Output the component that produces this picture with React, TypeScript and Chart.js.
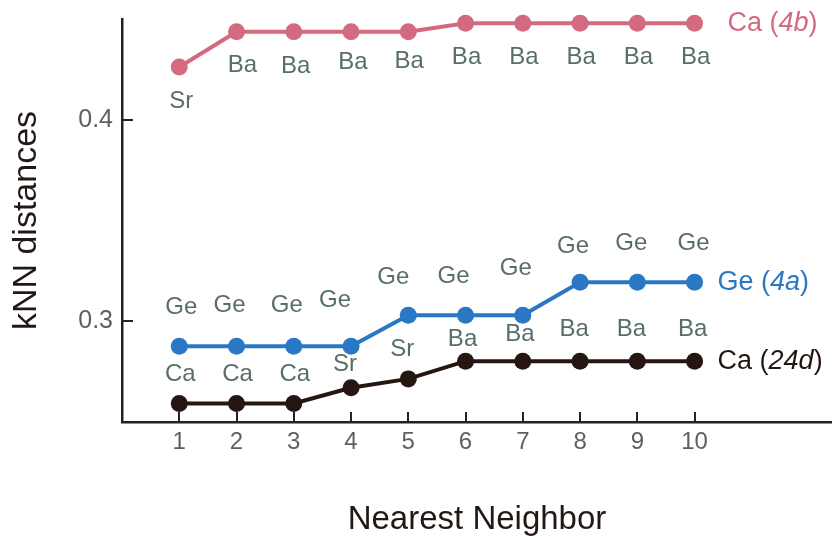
import React, { useEffect, useRef } from 'react';
import { Chart, registerables } from 'chart.js';

Chart.register(...registerables);

// Neighbor rank on the x axis and the ticks shown on each axis
const neighborRanks = [1, 2, 3, 4, 5, 6, 7, 8, 9, 10];
const xTickValues = [1, 2, 3, 4, 5, 6, 7, 8, 9, 10];
const yTickValues = [0.3, 0.4];

// kNN distances per site
const ca4bDistances = [0.4262, 0.4437, 0.4437, 0.4437, 0.4437, 0.4479, 0.4479, 0.4479, 0.4479, 0.4479];
const ge4aDistances = [0.2876, 0.2876, 0.2876, 0.2876, 0.303, 0.303, 0.303, 0.3193, 0.3193, 0.3193];
const ca24dDistances = [0.2592, 0.2592, 0.2592, 0.267, 0.2714, 0.2802, 0.2802, 0.2802, 0.2802, 0.2802];

// Species of each neighbor
const ca4bNeighbors = ['Sr', 'Ba', 'Ba', 'Ba', 'Ba', 'Ba', 'Ba', 'Ba', 'Ba', 'Ba'];
const ge4aNeighbors = ['Ge', 'Ge', 'Ge', 'Ge', 'Ge', 'Ge', 'Ge', 'Ge', 'Ge', 'Ge'];
const ca24dNeighbors = ['Ca', 'Ca', 'Ca', 'Sr', 'Sr', 'Ba', 'Ba', 'Ba', 'Ba', 'Ba'];

// Site names: element plus italic Wyckoff position
const siteNames = [
  { element: 'Ca', wyckoff: '4b' },
  { element: 'Ge', wyckoff: '4a' },
  { element: 'Ca', wyckoff: '24d' },
];

const PINK = '#d46a80';
const BLUE = '#2a78c3';
const DARK = '#261612';
const AXIS = '#2b201c';
const NOTE = '#586e69';
const FONT = '"Liberation Sans", Arial, sans-serif';

// Pixel nudges for the neighbor-species text around each point
const noteLayout = [
  { dx: [2, 6, 2, 2, 1, 1, 1, 1, 1, 1], dy: [34, 34, 35, 31, 30, 34, 34, 34, 34, 34] },
  { dx: [2, -7, -7, -16, -15, -12, -7, -7, -6, -1], dy: [-39, -41, -41, -46, -38, -39, -47, -36, -39, -39] },
  { dx: [1, 1, 1, -6, -6, -3, -3, -6, -6, -2], dy: [-29, -29, -29, -23, -30, -22, -27, -32, -32, -32] },
];
const nameOffsetX = [33, 23, 23];

const neighborNotes = [ca4bNeighbors, ge4aNeighbors, ca24dNeighbors];

const inwardTicks = {
  id: 'inwardTicks',
  beforeDatasetsDraw(chart: any) {
    const { ctx, chartArea, scales } = chart;
    ctx.save();
    ctx.strokeStyle = AXIS;
    ctx.lineWidth = 2;
    ctx.beginPath();
    xTickValues.forEach((v) => {
      const px = Math.round(scales.x.getPixelForValue(v));
      ctx.moveTo(px, chartArea.bottom);
      ctx.lineTo(px, chartArea.bottom - 10);
    });
    yTickValues.forEach((v) => {
      const py = Math.round(scales.y.getPixelForValue(v));
      ctx.moveTo(chartArea.left, py);
      ctx.lineTo(chartArea.left + 11, py);
    });
    ctx.stroke();
    ctx.restore();
  },
};

const pointNotes = {
  id: 'pointNotes',
  afterDatasetsDraw(chart: any) {
    const { ctx } = chart;
    ctx.save();
    chart.data.datasets.forEach((ds: any, i: number) => {
      const meta = chart.getDatasetMeta(i);
      const notes = neighborNotes[i];
      const lay = noteLayout[i];
      ctx.font = `24px ${FONT}`;
      ctx.fillStyle = NOTE;
      ctx.textAlign = 'center';
      ctx.textBaseline = 'middle';
      meta.data.forEach((pt: any, j: number) => {
        ctx.fillText(notes[j], pt.x + lay.dx[j], pt.y + lay.dy[j]);
      });
      // series name to the right of the last point
      const last = meta.data[meta.data.length - 1];
      const name = siteNames[i];
      let x = last.x + nameOffsetX[i];
      const y = last.y;
      ctx.fillStyle = ds.borderColor;
      ctx.textAlign = 'left';
      const regular = `27px ${FONT}`;
      const italic = `italic 27px ${FONT}`;
      const parts: [string, string][] = [
        [`${name.element} (`, regular],
        [name.wyckoff, italic],
        [')', regular],
      ];
      parts.forEach(([txt, f]) => {
        ctx.font = f;
        ctx.fillText(txt, x, y);
        x += ctx.measureText(txt).width;
      });
    });
    ctx.restore();
  },
};

function series(values: number[], color: string) {
  return {
    data: neighborRanks.map((r, k) => ({ x: r, y: values[k] })),
    borderColor: color,
    backgroundColor: color,
    pointBackgroundColor: color,
    pointBorderColor: color,
    borderWidth: 4,
    pointRadius: 8.5,
    pointBorderWidth: 0,
    tension: 0,
    clip: false as any,
  };
}

// drop the extra room Chart.js reserves for edge tick labels
function noEdgePadding(scale: any) {
  scale.paddingTop = 0;
  scale.paddingBottom = 0;
  scale.paddingLeft = 0;
  scale.paddingRight = 0;
}

export default function App() {
  const canvasRef = useRef<HTMLCanvasElement>(null);

  useEffect(() => {
    if (!canvasRef.current) return;
    const chart = new Chart(canvasRef.current, {
      type: 'line',
      data: {
        datasets: [
          series(ca4bDistances, PINK),
          series(ge4aDistances, BLUE),
          series(ca24dDistances, DARK),
        ],
      },
      options: {
        responsive: false,
        animation: false,
        devicePixelRatio: 1,
        layout: { autoPadding: false, padding: { top: 19, right: 0, bottom: 0, left: 0 } },
        plugins: {
          legend: { display: false },
          tooltip: { enabled: false },
        },
        scales: {
          x: {
            type: 'linear',
            min: 0,
            max: 12.4,
            afterBuildTicks: (scale: any) => {
              scale.ticks = xTickValues.map((v) => ({ value: v }));
            },
            afterFit: (scale: any) => {
              scale.height = 114;
              noEdgePadding(scale);
            },
            grid: { display: false, drawTicks: false },
            border: { display: true, color: AXIS, width: 2.5 },
            ticks: {
              color: '#5f5f5f',
              font: { family: FONT, size: 24 },
              padding: 6,
              maxRotation: 0,
              autoSkip: false,
              callback: (v: any) => String(v),
            },
            title: {
              display: true,
              text: 'Nearest Neighbor',
              color: '#231815',
              font: { family: FONT, size: 33, lineHeight: 1 },
              padding: 0,
            },
          },
          y: {
            type: 'linear',
            min: 0.25,
            max: 0.45,
            afterBuildTicks: (scale: any) => {
              scale.ticks = yTickValues.map((v) => ({ value: v }));
            },
            afterFit: (scale: any) => {
              scale.width = 122;
              noEdgePadding(scale);
            },
            grid: { display: false, drawTicks: false },
            border: { display: true, color: AXIS, width: 2.5 },
            ticks: {
              color: '#5f5f5f',
              font: { family: FONT, size: 25 },
              padding: 9,
              callback: (v: any) => Number(v).toFixed(1),
            },
            title: {
              display: true,
              text: 'kNN distances',
              color: '#231815',
              font: { family: FONT, size: 34, lineHeight: 1 },
              padding: { top: 10, bottom: 0 },
            },
          },
        },
      },
      plugins: [inwardTicks, pointNotes],
    });
    return () => chart.destroy();
  }, []);

  return (
    <div style={{ position: 'fixed', left: 0, top: 0, width: 832, height: 536, background: '#fff' }}>
      <canvas ref={canvasRef} width={832} height={536} />
    </div>
  );
}
